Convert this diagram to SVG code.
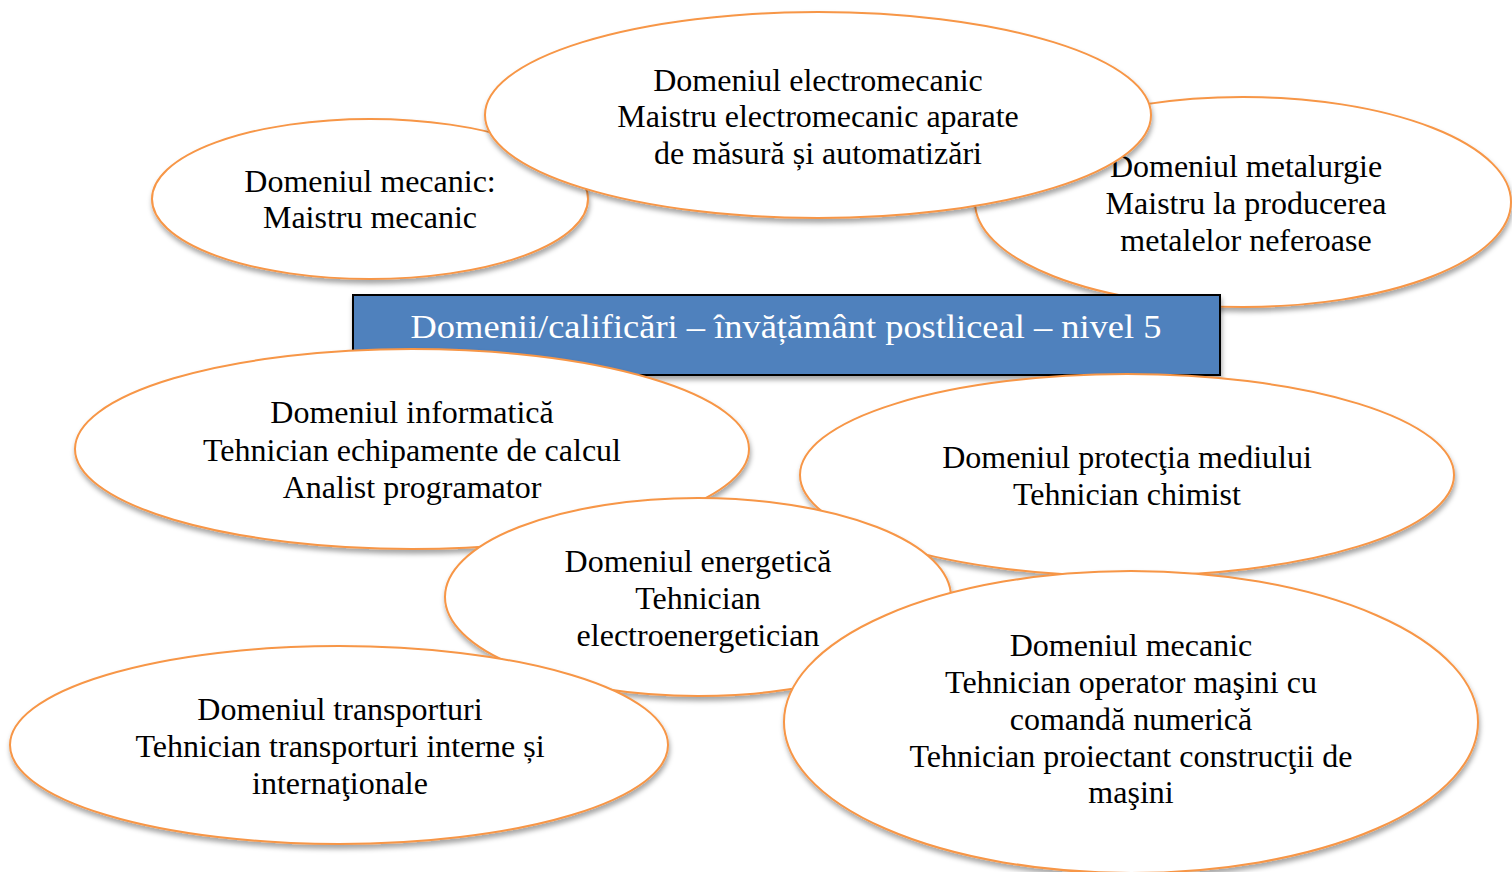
<svg xmlns="http://www.w3.org/2000/svg" width="1512" height="872" viewBox="0 0 1512 872">
<defs>
<filter id="sh" x="-10%" y="-10%" width="120%" height="130%">
<feDropShadow dx="1" dy="4" stdDeviation="2.5" flood-color="#000" flood-opacity="0.35"/>
</filter>
<style>
.el{fill:#fff;stroke:#F79646;stroke-width:2;filter:url(#sh)}
.t{font-family:"Liberation Serif","Times New Roman",serif;font-size:32px;fill:#000;text-anchor:middle}
.box{fill:#4F81BD;stroke:#000;stroke-width:2;filter:url(#sh)}
.tt{font-family:"Liberation Serif","Times New Roman",serif;font-size:34px;fill:#fff;text-anchor:middle}
</style>
</defs>
<rect width="1512" height="872" fill="#fff"/>
<g id="connectors"></g>
<g id="n-mecanic-maistru">
<ellipse class="el" cx="370" cy="199" rx="218" ry="80"/>
<text class="t" x="370" y="192">Domeniul mecanic:</text>
<text class="t" x="370" y="228">Maistru mecanic</text>
</g>
<g id="n-metalurgie">
<ellipse class="el" cx="1243" cy="202" rx="268" ry="105"/>
<text class="t" x="1246" y="177">Domeniul metalurgie</text>
<text class="t" x="1246" y="214">Maistru la producerea</text>
<text class="t" x="1246" y="251">metalelor neferoase</text>
</g>
<g id="n-electromecanic">
<ellipse class="el" cx="818" cy="115" rx="333" ry="103"/>
<text class="t" x="818" y="91">Domeniul electromecanic</text>
<text class="t" x="818" y="127">Maistru electromecanic aparate</text>
<text class="t" x="818" y="164">de măsură și automatizări</text>
</g>
<g id="n-titlu">
<rect class="box" x="353" y="295" width="867" height="80"/>
<text class="tt" x="786" y="338" textLength="751" lengthAdjust="spacingAndGlyphs">Domenii/calificări – învățământ postliceal – nivel 5</text>
</g>
<g id="n-informatica">
<ellipse class="el" cx="412" cy="449" rx="337" ry="100"/>
<text class="t" x="412" y="423">Domeniul informatică</text>
<text class="t" x="412" y="461">Tehnician echipamente de calcul</text>
<text class="t" x="412" y="498">Analist programator</text>
</g>
<g id="n-protectia">
<ellipse class="el" cx="1127" cy="475" rx="327" ry="101"/>
<text class="t" x="1127" y="468">Domeniul protecţia mediului</text>
<text class="t" x="1127" y="505">Tehnician chimist</text>
</g>
<g id="n-energetica">
<ellipse class="el" cx="698" cy="597" rx="253" ry="99"/>
<text class="t" x="698" y="572">Domeniul energetică</text>
<text class="t" x="698" y="609">Tehnician</text>
<text class="t" x="698" y="646">electroenergetician</text>
</g>
<g id="n-transporturi">
<ellipse class="el" cx="339" cy="745" rx="329" ry="99"/>
<text class="t" x="340" y="720">Domeniul transporturi</text>
<text class="t" x="340" y="757">Tehnician transporturi interne și</text>
<text class="t" x="340" y="794">internaţionale</text>
</g>
<g id="n-mecanic-tehnician">
<ellipse class="el" cx="1131" cy="722" rx="347" ry="151"/>
<text class="t" x="1131" y="656">Domeniul mecanic</text>
<text class="t" x="1131" y="693">Tehnician operator maşini cu</text>
<text class="t" x="1131" y="730">comandă numerică</text>
<text class="t" x="1131" y="767">Tehnician proiectant construcţii de</text>
<text class="t" x="1131" y="803">maşini</text>
</g>
</svg>
